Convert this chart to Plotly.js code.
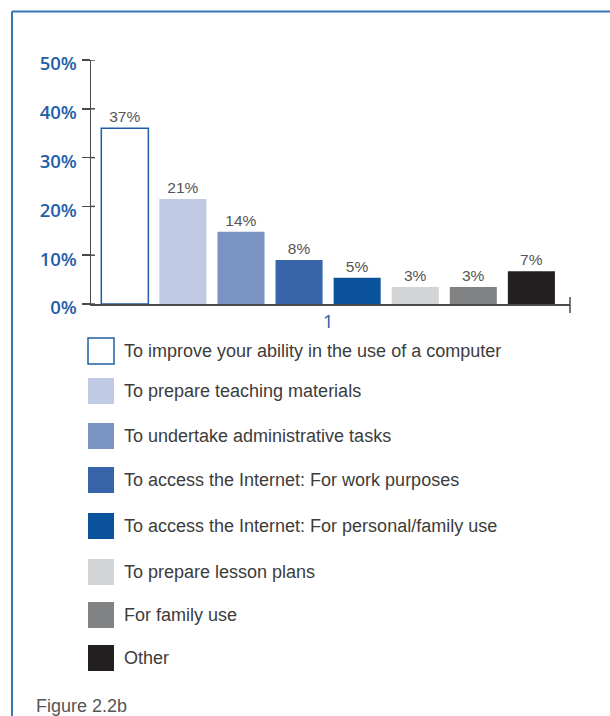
<!DOCTYPE html>
<html>
<head>
<meta charset="utf-8">
<script src="https://cdn.plot.ly/plotly-3.0.1.min.js"></script>
<style>
html,body{margin:0;padding:0;background:#fff;}
#chart{width:610px;height:716px;}
</style>
</head>
<body>
<div id="chart"></div>
<script>
// ---- data ----
var categories = ["1"];
var seriesNames = [
  "To improve your ability in the use of a computer",
  "To prepare teaching materials",
  "To undertake administrative tasks",
  "To access the Internet: For work purposes",
  "To access the Internet: For personal/family use",
  "To prepare lesson plans",
  "For family use",
  "Other"
];
var seriesValues = [36, 21.5, 14.8, 9, 5.4, 3.5, 3.5, 6.7];
var seriesLabels = ["37%", "21%", "14%", "8%", "5%", "3%", "3%", "7%"];
var yTickVals = [0, 10, 20, 30, 40, 50];
var yTickText = ["0%", "10%", "20%", "30%", "40%", "50%"];
var caption = "Figure 2.2b";

// ---- styles ----
var fills = ["#ffffff", "#c0cae4", "#7a93c3", "#3865aa", "#0b529d", "#d3d4d6", "#808183", "#231f20"];
var lines = ["#1f5ca8", "#c0cae4", "#7a93c3", "#3865aa", "#0b529d", "#d3d4d6", "#808183", "#231f20"];
var blue = "#1f5ea8";
var axisCol = "#4a4a4a";
var font = "Liberation Sans, Arial, sans-serif";
var tickFont = "Open Sans, Liberation Sans, sans-serif";

// plot area in pixels
var L = 91, R = 570, T = 60, B = 304, W = 610, H = 716;
function px(x){ return (x - L) / (R - L); }
function py(y){ return (B - y) / (B - T); }

var traces = seriesNames.map(function(name, i){
  return {
    type: "bar",
    name: name,
    x: categories,
    y: [seriesValues[i]],
    text: [seriesLabels[i]],
    textposition: "outside",
    cliponaxis: false,
    textfont: {family: font, size: 15.5, color: "#555555"},
    marker: {color: fills[i], line: {color: lines[i], width: i === 0 ? 1.5 : 0}},
    hoverinfo: "skip",
    showlegend: false
  };
});

var shapes = [];
var annotations = [];
// frame
shapes.push({type: "line", xref: "paper", yref: "paper", x0: px(12), x1: px(612), y0: py(11.5), y1: py(11.5), line: {color: "#3a75b8", width: 2}});
shapes.push({type: "line", xref: "paper", yref: "paper", x0: px(12), x1: px(12), y0: py(11.5), y1: py(720), line: {color: "#3a75b8", width: 2}});
// right end tick of category axis
shapes.push({type: "line", xref: "paper", yref: "paper", x0: 1, x1: 1, y0: py(297), y1: py(313), line: {color: axisCol, width: 1.5}});
// inside part of the value-axis ticks
yTickVals.forEach(function(v){
  shapes.push({type: "line", xref: "paper", yref: "y", x0: 0, x1: px(95), y0: v, y1: v, line: {color: axisCol, width: 1.5}});
});

// custom legend
var rowCenters = [351, 391, 436, 480, 526, 572, 615, 658];
seriesNames.forEach(function(name, i){
  var c = rowCenters[i];
  shapes.push({
    type: "rect", xref: "paper", yref: "paper",
    x0: px(88), x1: px(114), y0: py(c - 13), y1: py(c + 13),
    fillcolor: fills[i],
    line: {color: lines[i], width: i === 0 ? 1.5 : 0}
  });
  annotations.push({
    xref: "paper", yref: "paper", x: px(122), y: py(c), xanchor: "left", yanchor: "middle",
    text: name, showarrow: false,
    font: {family: font, size: 18, color: "#3c3c3c"}
  });
});
annotations.push({
  xref: "paper", yref: "paper", x: px(34), y: py(706), xanchor: "left", yanchor: "middle",
  text: caption, showarrow: false,
  font: {family: font, size: 18, color: "#555555"}
});

var layout = {
  width: W, height: H,
  margin: {l: L, r: W - R, t: T, b: H - B, pad: 0},
  paper_bgcolor: "#ffffff",
  plot_bgcolor: "#ffffff",
  barmode: "group",
  bargap: 0.03,
  bargroupgap: 0.19,
  showlegend: false,
  xaxis: {
    type: "category",
    range: [-0.495, 0.505],
    showline: true, linecolor: axisCol, linewidth: 1.5,
    ticks: "", showgrid: false, zeroline: false,
    tickfont: {family: tickFont, size: 19, color: blue, weight: 500},
    ticklabelstandoff: 0,
    fixedrange: true
  },
  yaxis: {
    range: [0, 50],
    tickvals: yTickVals, ticktext: yTickText,
    showline: true, linecolor: axisCol, linewidth: 1.5,
    ticks: "outside", ticklen: 8, tickwidth: 1.5, tickcolor: axisCol,
    showgrid: false, zeroline: false,
    tickfont: {family: tickFont, size: 18.5, color: blue, weight: 600},
    ticklabelstandoff: 1,
    ticklabelshift: 4,
    fixedrange: true
  },
  shapes: shapes,
  annotations: annotations
};

Plotly.newPlot("chart", traces, layout, {displayModeBar: false, staticPlot: true});
</script>
</body>
</html>
